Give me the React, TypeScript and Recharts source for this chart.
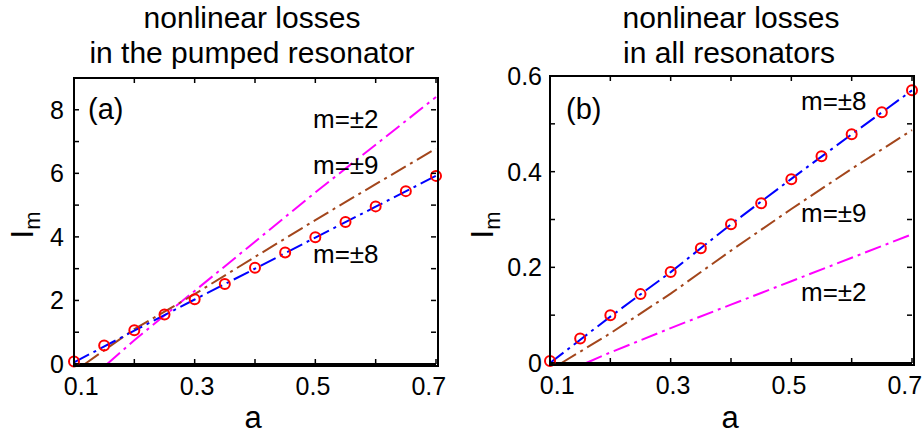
import { LineChart, Line, XAxis, YAxis } from 'recharts';

const FONT = '"Liberation Sans", Arial, Helvetica, sans-serif';

// sampled a values for the markers and for the fitted lines
const markerA = [0.1, 0.15, 0.2, 0.25, 0.3, 0.35, 0.4, 0.45, 0.5, 0.55, 0.6, 0.65, 0.7];
const lineA = [0.1, 0.2, 0.3, 0.4, 0.5, 0.6, 0.7];

// panel (a): nonlinear losses in the pumped resonator
const circlesPumped = [0.08, 0.58, 1.06, 1.56, 2.04, 2.52, 3.03, 3.51, 3.99, 4.47, 4.96, 5.44, 5.92];
const m8Pumped = [0.05, 1.05, 2.03, 3.0, 3.98, 4.95, 5.92];
const m9PumpedX = [0.118, 0.2, 0.3, 0.4, 0.5, 0.6, 0.7];
const m9Pumped = [0, 1.1, 2.2, 3.37, 4.53, 5.66, 6.78];
const m2PumpedX = [0.155, 0.2, 0.3, 0.4, 0.5, 0.6, 0.7];
const m2Pumped = [0, 0.75, 2.3, 3.85, 5.4, 6.9, 8.4];

// panel (b): nonlinear losses in all resonators
const circlesAll = [0.004, 0.051, 0.1, 0.144, 0.19, 0.24, 0.29, 0.334, 0.384, 0.432, 0.478, 0.524, 0.57];
const m8All = [0, 0.097, 0.19, 0.29, 0.385, 0.478, 0.57];
const m9AllX = [0.119, 0.2, 0.3, 0.4, 0.5, 0.6, 0.7];
const m9All = [0, 0.062, 0.145, 0.235, 0.322, 0.406, 0.487];
const m2AllX = [0.16, 0.2, 0.3, 0.4, 0.5, 0.6, 0.7];
const m2All = [0, 0.022, 0.073, 0.122, 0.171, 0.22, 0.269];

const xTicks = [0.1, 0.2, 0.3, 0.4, 0.5, 0.6, 0.7];
const yTicksPumped = [0, 1, 2, 3, 4, 5, 6, 7, 8];
const yTicksAll = [0, 0.1, 0.2, 0.3, 0.4, 0.5, 0.6];

const zip = (xs: number[], ys: number[]) => xs.map((x, i) => ({ x, y: ys[i] }));

const DASH = '17 5 3 5';
const BLUE = '#0000ff';
const BROWN = '#a3461c';
const MAGENTA = '#ff00ff';
const RED = '#ff0000';

const H = 435;
const Y_AXIS_W = 60;
const X_AXIS_H = 40;
const TL = 5; // inward tick length

const fmtX = (v: number) => (Math.round(v * 10) % 2 === 1 ? v.toFixed(1) : null);
const fmtYPumped = (v: number) => (v % 2 === 0 ? String(v) : null);
const fmtYAll = (v: number) => {
  const k = Math.round(v * 10);
  if (k % 2 !== 0) return null;
  return k === 0 ? '0' : v.toFixed(1);
};

const xTickLabel = (props: any) => {
  const { x, y, payload } = props;
  const label = fmtX(payload.value);
  if (!label) return <g />;
  // matlab squeezes the outer labels a little toward the middle
  const dx = (0.4 - payload.value) * 24;
  return <text x={x + dx} y={y} textAnchor="middle" fontSize={25} fontFamily={FONT} fill="#000">{label}</text>;
};

const makeYTickLabel = (fmt: (v: number) => string | null) => (props: any) => {
  const { x, y, payload } = props;
  const label = fmt(payload.value);
  if (!label) return <g />;
  return <text x={x} y={y + 9} textAnchor="end" fontSize={25} fontFamily={FONT} fill="#000">{label}</text>;
};

type Margin = { top: number; right: number; bottom: number; left: number };

interface PanelProps {
  width: number;
  margin: Margin;
  yDomain: [number, number];
  yTicks: number[];
  fmtY: (v: number) => string | null;
  yGap: number;
  circles: { x: number; y: number }[];
  m8: { x: number; y: number }[];
  m9: { x: number; y: number }[];
  m2: { x: number; y: number }[];
}

const Panel = ({ width, margin, yDomain, yTicks, fmtY, yGap, circles, m8, m9, m2 }: PanelProps) => (
  <LineChart width={width} height={H} margin={margin}>
    <XAxis
      dataKey="x"
      type="number"
      domain={[0.1, 0.7]}
      ticks={xTicks}
      interval={0}
      height={X_AXIS_H}
      tickSize={0}
      tickMargin={31}
      axisLine={{ stroke: '#000', strokeWidth: 2 }}
      tickLine={false}
      tick={xTickLabel}
    />
    <YAxis
      type="number"
      domain={yDomain}
      ticks={yTicks}
      interval={0}
      width={Y_AXIS_W}
      tickSize={0}
      tickMargin={yGap}
      axisLine={{ stroke: '#000', strokeWidth: 2 }}
      tickLine={false}
      tick={makeYTickLabel(fmtY)}
    />
    <Line data={m2} dataKey="y" type="linear" stroke={MAGENTA} strokeWidth={2} strokeDasharray={DASH} dot={false} activeDot={false} isAnimationActive={false} />
    <Line data={m9} dataKey="y" type="linear" stroke={BROWN} strokeWidth={2} strokeDasharray={DASH} dot={false} activeDot={false} isAnimationActive={false} />
    <Line data={m8} dataKey="y" type="linear" stroke={BLUE} strokeWidth={2} strokeDasharray={DASH} dot={false} activeDot={false} isAnimationActive={false} />
    <Line
      data={circles}
      dataKey="y"
      type="linear"
      stroke="none"
      dot={{ r: 5, stroke: RED, strokeWidth: 2, fill: 'none' }}
      activeDot={false}
      isAnimationActive={false}
    />
  </LineChart>
);

const plotBox = (offset: number, width: number, margin: Margin) => ({
  left: offset + margin.left + Y_AXIS_W,
  right: offset + width - margin.right,
  top: margin.top,
  bottom: H - margin.bottom - X_AXIS_H,
});

// box frame (html border) so the top / right edges are always drawn
const BoxBorder = ({ offset, width, margin }: { offset: number; width: number; margin: Margin }) => {
  const b = plotBox(offset, width, margin);
  return (
    <div
      style={{
        position: 'absolute',
        left: b.left - 1,
        top: b.top - 1,
        width: b.right - b.left,
        height: b.bottom - b.top,
        border: '2px solid #000',
        boxSizing: 'content-box',
        pointerEvents: 'none',
      }}
    />
  );
};

// inward ticks on all four sides (matlab "box on")
const Ticks = ({ offset, width, margin, yDomain, yTicks }: { offset: number; width: number; margin: Margin; yDomain: [number, number]; yTicks: number[] }) => {
  const { left, right, top, bottom } = plotBox(offset, width, margin);
  const px = (v: number) => left + ((v - 0.1) / 0.6) * (right - left);
  const py = (v: number) => bottom - ((v - yDomain[0]) / (yDomain[1] - yDomain[0])) * (bottom - top);
  return (
    <g>
      {xTicks.map((v) => (
        <g key={`x${v}`}>
          <line x1={px(v)} x2={px(v)} y1={bottom} y2={bottom - TL} stroke="#000" strokeWidth={1.5} />
          <line x1={px(v)} x2={px(v)} y1={top} y2={top + TL} stroke="#000" strokeWidth={1.5} />
        </g>
      ))}
      {yTicks.map((v) => (
        <g key={`y${v}`}>
          <line x1={left} x2={left + TL} y1={py(v)} y2={py(v)} stroke="#000" strokeWidth={1.5} />
          <line x1={right} x2={right - TL} y1={py(v)} y2={py(v)} stroke="#000" strokeWidth={1.5} />
        </g>
      ))}
    </g>
  );
};

const txt = { fontFamily: FONT, fill: '#000' };

const marginA: Margin = { top: 78, right: 24, bottom: 31, left: 14 };
const marginB: Margin = { top: 76, right: 11, bottom: 32, left: 30 };

export default function App() {
  return (
    <div style={{ position: 'absolute', left: 0, top: 0, width: 923, height: H, background: '#fff' }}>
      <div style={{ position: 'absolute', left: 0, top: 0 }}>
        <Panel
          width={460}
          margin={marginA}
          yDomain={[0, 9]}
          yTicks={yTicksPumped}
          fmtY={fmtYPumped}
          yGap={10}
          circles={zip(markerA, circlesPumped)}
          m8={zip(lineA, m8Pumped)}
          m9={zip(m9PumpedX, m9Pumped)}
          m2={zip(m2PumpedX, m2Pumped)}
        />
      </div>
      <div style={{ position: 'absolute', left: 460, top: 0 }}>
        <Panel
          width={463}
          margin={marginB}
          yDomain={[0, 0.6]}
          yTicks={yTicksAll}
          fmtY={fmtYAll}
          yGap={8}
          circles={zip(markerA, circlesAll)}
          m8={zip(lineA, m8All)}
          m9={zip(m9AllX, m9All)}
          m2={zip(m2AllX, m2All)}
        />
      </div>
      <BoxBorder offset={0} width={460} margin={marginA} />
      <BoxBorder offset={460} width={463} margin={marginB} />
      <svg width={923} height={H} style={{ position: 'absolute', left: 0, top: 0, pointerEvents: 'none' }}>
        <Ticks offset={0} width={460} margin={marginA} yDomain={[0, 9]} yTicks={yTicksPumped} />
        <Ticks offset={460} width={463} margin={marginB} yDomain={[0, 0.6]} yTicks={yTicksAll} />

        {/* titles */}
        <text x={252} y={28} textAnchor="middle" fontSize={30} {...txt}>nonlinear losses</text>
        <text x={252} y={63} textAnchor="middle" fontSize={30} {...txt}>in the pumped resonator</text>
        <text x={731} y={28} textAnchor="middle" fontSize={30} {...txt}>nonlinear losses</text>
        <text x={729} y={63} textAnchor="middle" fontSize={30} {...txt}>in all resonators</text>

        {/* axis labels */}
        <text x={253} y={428} textAnchor="middle" fontSize={31} {...txt}>a</text>
        <text x={730} y={428} textAnchor="middle" fontSize={31} {...txt}>a</text>
        <text transform="translate(33,225) rotate(-90)" textAnchor="middle" fontSize={31} {...txt}>
          I<tspan fontSize={22} dy={7}>m</tspan>
        </text>
        <text transform="translate(493,225) rotate(-90)" textAnchor="middle" fontSize={31} {...txt}>
          I<tspan fontSize={22} dy={7}>m</tspan>
        </text>

        {/* panel (a) annotations */}
        <text x={88} y={119} fontSize={29} {...txt}>(a)</text>
        <text x={313} y={128} fontSize={26} {...txt}>m=±2</text>
        <text x={313} y={174} fontSize={26} {...txt}>m=±9</text>
        <text x={313} y={263} fontSize={26} {...txt}>m=±8</text>

        {/* panel (b) annotations */}
        <text x={566} y={119} fontSize={29} {...txt}>(b)</text>
        <text x={801} y={110} fontSize={26} {...txt}>m=±8</text>
        <text x={801} y={222} fontSize={26} {...txt}>m=±9</text>
        <text x={801} y={301} fontSize={26} {...txt}>m=±2</text>
      </svg>
    </div>
  );
}
